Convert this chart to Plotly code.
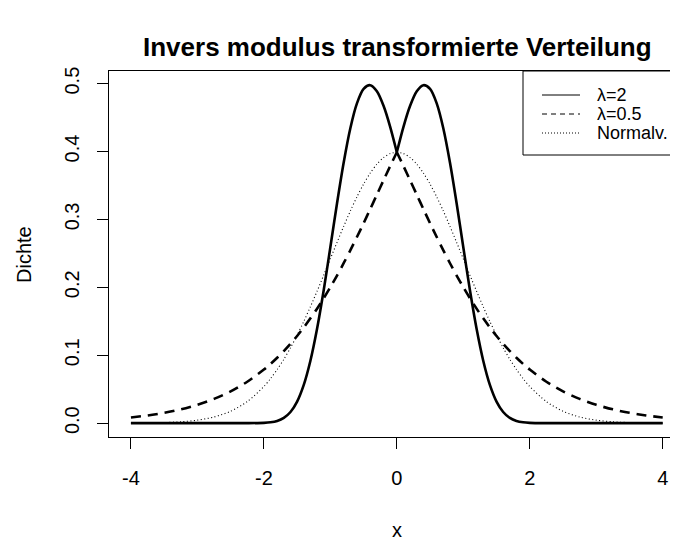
import plotly.graph_objects as go

# x positions
x_vals = [-4.0, -3.75, -3.5, -3.25, -3.0, -2.75, -2.5, -2.25,
          -2.0, -1.9, -1.8, -1.7, -1.6, -1.5, -1.4, -1.3, -1.2, -1.1,
          -1.0, -0.9, -0.8, -0.7, -0.6, -0.5, -0.4, -0.3, -0.2, -0.1,
          0.0, 0.1, 0.2, 0.3, 0.4, 0.5, 0.6, 0.7, 0.8, 0.9, 1.0,
          1.1, 1.2, 1.3, 1.4, 1.5, 1.6, 1.7, 1.8, 1.9, 2.0,
          2.25, 2.5, 2.75, 3.0, 3.25, 3.5, 3.75, 4.0]

lam2 = [0.0, 0.0, 0.0, 0.0, 0.0, 0.0, 0.0, 0.0,
        0.0004, 0.0012, 0.0032, 0.0077, 0.0164, 0.0318, 0.0564, 0.0920, 0.1390, 0.1958,
        0.2590, 0.3235, 0.3835, 0.4340, 0.4709, 0.4922, 0.4977, 0.4887, 0.4673, 0.4364,
        0.3989, 0.4364, 0.4673, 0.4887, 0.4977, 0.4922, 0.4709, 0.4340, 0.3835, 0.3235, 0.2590,
        0.1958, 0.1390, 0.0920, 0.0564, 0.0318, 0.0164, 0.0077, 0.0032, 0.0012, 0.0004,
        0.0, 0.0, 0.0, 0.0, 0.0, 0.0, 0.0, 0.0]

lam05 = [0.0084, 0.0113, 0.0152, 0.0203, 0.0270, 0.0357, 0.0468, 0.0610,
         0.0789, 0.0872, 0.0963, 0.1062, 0.1169, 0.1284, 0.1409, 0.1543, 0.1686, 0.1839,
         0.2002, 0.2174, 0.2355, 0.2544, 0.2741, 0.2944, 0.3153, 0.3364, 0.3576, 0.3786,
         0.3989, 0.3786, 0.3576, 0.3364, 0.3153, 0.2944, 0.2741, 0.2544, 0.2355, 0.2174, 0.2002,
         0.1839, 0.1686, 0.1543, 0.1409, 0.1284, 0.1169, 0.1062, 0.0963, 0.0872, 0.0789,
         0.0610, 0.0468, 0.0357, 0.0270, 0.0203, 0.0152, 0.0113, 0.0084]

normal = [0.0001, 0.0004, 0.0009, 0.0020, 0.0044, 0.0091, 0.0175, 0.0317,
          0.0540, 0.0656, 0.0790, 0.0940, 0.1109, 0.1295, 0.1497, 0.1714, 0.1942, 0.2179,
          0.2420, 0.2661, 0.2897, 0.3123, 0.3332, 0.3521, 0.3683, 0.3814, 0.3910, 0.3970,
          0.3989, 0.3970, 0.3910, 0.3814, 0.3683, 0.3521, 0.3332, 0.3123, 0.2897, 0.2661, 0.2420,
          0.2179, 0.1942, 0.1714, 0.1497, 0.1295, 0.1109, 0.0940, 0.0790, 0.0656, 0.0540,
          0.0317, 0.0175, 0.0091, 0.0044, 0.0020, 0.0009, 0.0004, 0.0001]

series_names = ["λ=2", "λ=0.5", "Normalv."]
x_ticks = [-4, -2, 0, 2, 4]
x_tick_text = ["-4", "-2", "0", "2", "4"]
y_ticks = [0.0, 0.1, 0.2, 0.3, 0.4, 0.5]
y_tick_text = ["0.0", "0.1", "0.2", "0.3", "0.4", "0.5"]

FONT = "Liberation Sans, Arial, sans-serif"
OFF = 8                      # page body margin
W, H = 678 - OFF, 541 - OFF
L = 109 - OFF
T = 71 - OFF
B = H - (437 - OFF)
R = 0

mid = x_vals.index(0.0)

def add_curve(yv, name, line):
    # drawn as two halves so the peak at x=0 keeps its sharp corner
    fig.add_trace(go.Scatter(x=x_vals[:mid + 1], y=yv[:mid + 1], mode="lines", name=name,
                             line=dict(shape="spline", smoothing=0.8, **line)))
    fig.add_trace(go.Scatter(x=x_vals[mid:], y=yv[mid:], mode="lines", name=name,
                             line=dict(shape="spline", smoothing=0.8, **line)))

fig = go.Figure()
add_curve(normal, series_names[2], dict(color="black", width=1.1, dash="1px,2.5px"))
add_curve(lam05, series_names[1], dict(color="black", width=2.6, dash="10px,7px"))
add_curve(lam2, series_names[0], dict(color="black", width=2.6))

pw = W - L - R
ph = H - T - B

def px(xs):
    return (xs - OFF - L) / pw

def py(ys):
    return 1 - (ys - OFF - T) / ph

shapes = []
shapes.append(dict(type="rect", xref="paper", yref="paper",
                   x0=px(523), x1=px(720), y0=py(155), y1=py(71),
                   line=dict(color="black", width=1), fillcolor="white", layer="above"))
leg_rows = [95, 114, 133]
leg_dash = ["solid", "5px,4px", "1px,2px"]
annotations = []
for name, yy, d in zip(series_names, leg_rows, leg_dash):
    shapes.append(dict(type="line", xref="paper", yref="paper",
                       x0=px(542), x1=px(580), y0=py(yy), y1=py(yy),
                       line=dict(color="black", width=1, dash=d), layer="above"))
    annotations.append(dict(xref="paper", yref="paper", x=px(595), y=py(yy),
                            text=name, showarrow=False, xanchor="left", yanchor="middle",
                            font=dict(family=FONT, size=18, color="black")))

annotations.append(dict(xref="paper", yref="paper", x=px(397), y=py(530),
                        text="x", showarrow=False, xanchor="center", yanchor="middle",
                        font=dict(family=FONT, size=20, color="black")))
annotations.append(dict(xref="paper", yref="paper", x=px(24), y=py(255),
                        text="Dichte", showarrow=False, xanchor="center", yanchor="middle",
                        textangle=-90,
                        font=dict(family=FONT, size=20, color="black")))
annotations.append(dict(xref="paper", yref="paper", x=px(397), y=py(47),
                        text="<b>Invers modulus transformierte Verteilung</b>", showarrow=False,
                        xanchor="center", yanchor="middle",
                        font=dict(family=FONT, size=26, color="black")))

fig.update_layout(
    width=W, height=H,
    margin=dict(l=L, r=R, t=T, b=B, pad=0),
    paper_bgcolor="white", plot_bgcolor="white",
    showlegend=False,
    font=dict(family=FONT, size=20, color="black"),
    xaxis=dict(range=[-4.33, 4.23], tickvals=x_ticks, ticktext=x_tick_text,
               ticks="outside", ticklen=11,
               tickwidth=1, tickcolor="black", showline=True, linecolor="black",
               linewidth=1, mirror=True, showgrid=False, zeroline=False,
               ticklabelstandoff=12, tickfont=dict(family=FONT, size=20)),
    yaxis=dict(range=[-0.0204, 0.5186], tickvals=y_ticks, ticktext=y_tick_text,
               ticks="outside", ticklen=11, tickwidth=1, tickcolor="black",
               showline=True, linecolor="black", linewidth=1, mirror=False,
               showgrid=False, zeroline=False, tickangle=-90,
               ticklabelstandoff=10, tickfont=dict(family=FONT, size=20)),
    shapes=shapes, annotations=annotations,
)

fig.write_html("out.html")
